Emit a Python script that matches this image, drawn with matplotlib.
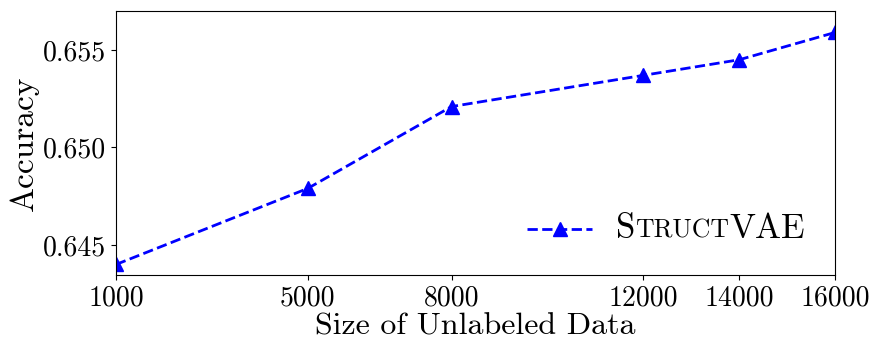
import matplotlib
matplotlib.use("Agg")
import matplotlib.pyplot as plt
from matplotlib.lines import Line2D
from matplotlib.offsetbox import AnchoredOffsetbox, DrawingArea, HPacker, TextArea

plt.rcParams['font.family'] = 'serif'
plt.rcParams['font.serif'] = ['cmr10', 'DejaVu Serif']
plt.rcParams['mathtext.fontset'] = 'cm'
plt.rcParams['axes.formatter.use_mathtext'] = True

sizes = [1000, 5000, 8000, 12000, 14000, 16000]
accuracy = [0.6440, 0.6479, 0.6521, 0.6537, 0.6545, 0.6559]
y_ticks = [0.645, 0.650, 0.655]
y_tick_labels = ['0.645', '0.650', '0.655']

fig = plt.figure(figsize=(8.7, 3.41), dpi=100)
ax = fig.add_axes([0.1333, 0.1935, 0.8265, 0.7742])

ax.plot(sizes, accuracy, color='blue', linestyle='--', linewidth=2,
        marker='^', markersize=10)

ax.set_xlim(1000, 16000)
ax.set_ylim(0.64346, 0.6570)
ax.set_xticks(sizes)
ax.set_xticklabels([str(s) for s in sizes])
ax.set_yticks(y_ticks)
ax.set_yticklabels(y_tick_labels)
ax.tick_params(labelsize=20)

ax.set_xlabel('Size of Unlabeled Data', fontsize=23, labelpad=1.5)
ax.set_ylabel('Accuracy', fontsize=24, labelpad=3)

# legend with small caps label built by hand
da = DrawingArea(47, 14, 0, 0)
da.add_artist(Line2D([0, 47], [7, 7], color='blue', linestyle='--', linewidth=2))
da.add_artist(Line2D([23.5], [7], color='blue', marker='^', markersize=10))
big = dict(fontsize=25, family='serif')
small = dict(fontsize=18.5, family='serif')
parts = [
    TextArea('S', textprops=big),
    TextArea('TRUCT', textprops=small),
    TextArea('VAE', textprops=big),
]
label = HPacker(children=parts, align='baseline', pad=0, sep=0)
box = HPacker(children=[da, label], align='center', pad=0, sep=17)
anch = AnchoredOffsetbox(loc='center right', child=box, pad=0, borderpad=0,
                         bbox_to_anchor=(0.958, 0.174),
                         bbox_transform=ax.transAxes, frameon=False)
ax.add_artist(anch)

fig.savefig('out.png', dpi=100)
